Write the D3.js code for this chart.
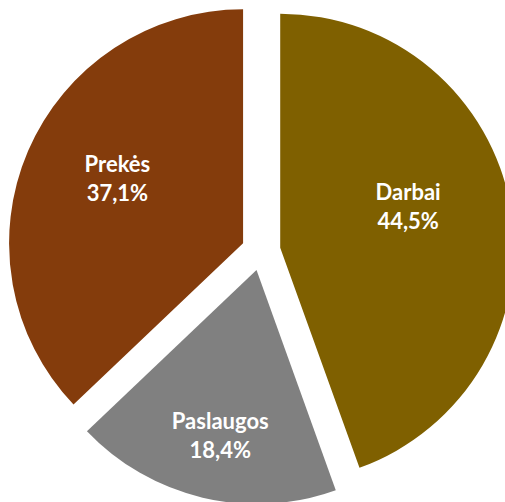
<!DOCTYPE html>
<html><head><meta charset="utf-8">
<script src="https://cdn.jsdelivr.net/npm/d3@7"></script>
<style>html,body{margin:0;padding:0;background:#fff;overflow:hidden}</style>
</head><body>
<svg id="c" width="505" height="502"></svg>
<script>
const categories = ["Darbai", "Paslaugos", "Prekės"];
const values = [44.5, 18.4, 37.1];
const labels = ["44,5%", "18,4%", "37,1%"];
const colors = ["#7F6000", "#808080", "#843C0C"];

const W = 505, H = 502;
const cx = 261, cy = 251, R = 234, explode = 19.5, labelR = 140;
// small best-fit nudges for label placement (layout only)
const labelNudge = [[-10, -21], [-4, 25], [3, -14]];
const svg = d3.select("#c");
const g = svg.append("g").attr("transform", `translate(${cx},${cy})`);
const pie = d3.pie().sort(null).value(d => d.v);
const data = categories.map((c, i) => ({c, v: values[i], l: labels[i], col: colors[i], i}));
const arcs = pie(data);
const arc = d3.arc().innerRadius(0).outerRadius(R);
const slices = g.selectAll("g.s").data(arcs).join("g").attr("class", "s")
  .attr("transform", d => {
    const a = (d.startAngle + d.endAngle) / 2;
    return `translate(${Math.sin(a) * explode},${-Math.cos(a) * explode})`;
  });
slices.append("path").attr("d", arc).attr("fill", d => d.data.col);
const t = slices.append("text")
  .attr("text-anchor", "middle")
  .attr("fill", "#fff")
  .style("font-family", "Lato, 'Open Sans', sans-serif")
  .style("font-weight", "bold")
  .style("font-size", "22px")
  .attr("transform", d => {
    const a = (d.startAngle + d.endAngle) / 2;
    const n = labelNudge[d.data.i];
    return `translate(${Math.sin(a) * labelR + n[0]},${-Math.cos(a) * labelR + n[1]})`;
  });
t.append("tspan").attr("x", 0).attr("dy", "-0.1em").text(d => d.data.c);
t.append("tspan").attr("x", 0).attr("dy", "1.3em").text(d => d.data.l);
</script>
</body></html>
